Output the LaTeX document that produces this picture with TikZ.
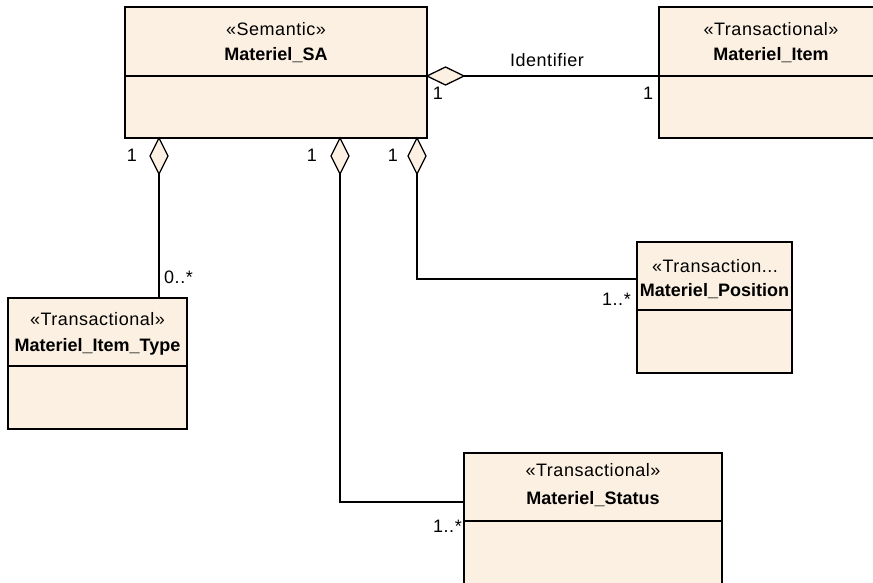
\documentclass[tikz,border=0pt]{standalone}
\usepackage{fontspec}
\setmainfont{Liberation Sans}
\definecolor{classfill}{RGB}{251,240,225}
\tikzset{
  x=1pt, y=-1pt,
  classbox/.style={draw=black, fill=classfill, line width=1.4pt},
  sepline/.style={draw=black, line width=1.4pt},
  conn/.style={draw=black, line width=1.3pt},
  diam/.style={draw=black, fill=classfill, line width=1.3pt},
  stereo/.style={anchor=base, inner sep=0pt, font=\fontsize{18}{20}\selectfont\addfontfeature{LetterSpace=3}},
  cname/.style={anchor=base, inner sep=0pt, font=\fontsize{18}{20}\selectfont\bfseries},
  mult/.style={anchor=base, inner sep=0pt, font=\fontsize{18}{20}\selectfont\addfontfeature{LetterSpace=3}},
}
\begin{document}
\begin{tikzpicture}
\useasboundingbox (0,0) rectangle (873,583);
\clip (0,0) rectangle (873,583);
% boxes
\path[classbox] (125,7) rectangle (427,138);
\path[sepline] (125,76) -- (427,76);
\node[stereo] (saS) at (276,36) {«Semantic»};
\node[cname] (saN) at (276,61) {Materiel\_SA};

\path[classbox] (659,7) rectangle (885,138);
\path[sepline] (659,76) -- (885,76);
\node[stereo] (itS) at (771,36) {«Transactional»};
\node[cname] (itN) at (771,61) {Materiel\_Item};
\coordinate (itW) at (659,76);

\path[classbox] (8,298) rectangle (187,429);
\path[sepline] (8,366) -- (187,366);
\node[stereo] (tyS) at (97.5,325) {«Transactional»};
\node[cname] (tyN) at (97.5,351) {Materiel\_Item\_Type};
\coordinate (tyT) at (159,298);

\path[classbox] (637,242) rectangle (792,373);
\path[sepline] (637,310) -- (792,310);
\node[stereo] (poS) at (715,272) {«Transaction...};
\node[cname] (poN) at (714.5,296) {Materiel\_Position};
\coordinate (poW) at (637,279);

\path[classbox] (464,453) rectangle (722,595);
\path[sepline] (464,521) -- (722,521);
\node[stereo] (stS) at (593,476) {«Transactional»};
\node[cname] (stN) at (593,504) {Materiel\_Status};
\coordinate (stW) at (464,502);

% connectors
\coordinate (d0) at (464,76);
\coordinate (d1) at (159,174);
\coordinate (d2) at (340,174);
\coordinate (d3) at (417,174);
\path[conn] (d0) -- (itW);
\path[conn] (d1) -- (tyT);
\path[conn] (d2) |- (stW);
\path[conn] (d3) |- (poW);
% aggregation diamonds
\path[diam] (427,76) -- (445.5,67) -- (d0) -- (445.5,85) -- cycle;
\path[diam] (159,138) -- (168,156) -- (d1) -- (150,156) -- cycle;
\path[diam] (340,138) -- (349,156) -- (d2) -- (331,156) -- cycle;
\path[diam] (417,138) -- (426,156) -- (d3) -- (408,156) -- cycle;

% labels
\node[mult] (lid) at (547,67) {Identifier};
\node[mult] (l0a) at (438,100) {1};
\node[mult] (l0b) at (648,100) {1};
\node[mult] (l1a) at (132,162) {1};
\node[mult] (l2a) at (312,162) {1};
\node[mult] (l3a) at (393,162) {1};
\node[mult, anchor=base west] (l1b) at (164,283) {0..*};
\node[mult, anchor=base east] (l3b) at (631,305) {1..*};
\node[mult, anchor=base east] (l2b) at (462,532) {1..*};
\end{tikzpicture}
\end{document}
